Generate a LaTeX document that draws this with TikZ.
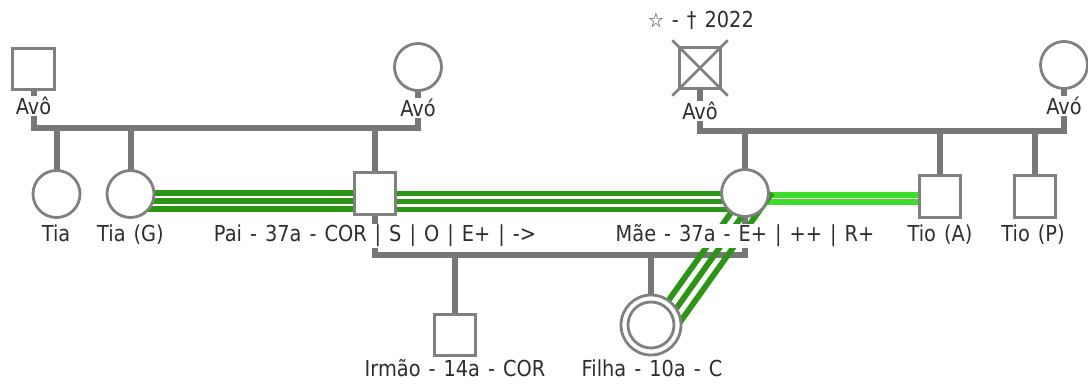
\documentclass[tikz,border=0pt]{standalone}
\usepackage{fontspec}
\setmainfont{DejaVu Sans}[FakeStretch=0.88, WordSpace=1.3]
\usetikzlibrary{calc}
\definecolor{linegray}{HTML}{777777}
\definecolor{nodegray}{HTML}{808080}
\definecolor{textgray}{HTML}{2E2E2E}
\definecolor{dgreen}{HTML}{2A9614}
\definecolor{lgreen}{HTML}{3DDC2A}
\pgfdeclarelayer{bg}
\pgfsetlayers{bg,main}
\begin{document}
\begin{tikzpicture}[x=1pt,y=-1pt,
  person/.style={draw=nodegray, line width=2.8pt, fill=white, inner sep=0pt, outer sep=0pt},
  male/.style={person, rectangle, minimum size=41.5pt},
  female/.style={person, circle, minimum size=47pt},
  lbl/.style={fill=white, inner sep=1pt, text=textgray, font=\fontsize{22}{24}\selectfont, anchor=base},
  conn/.style={draw=linegray, line width=6pt},
  relD/.style={draw=dgreen, line width=5.8pt},
  relL/.style={draw=lgreen, line width=6pt},
  xline/.style={draw=nodegray, line width=2.8pt}]
\useasboundingbox (0,0) rectangle (1088,387);
% persons
\node[male] (avoL) at (33.5,69) {};
\node[female] (avoM) at (418,67) {};
\node[male] (avoR) at (700,68) {};
\node[female] (avoRR) at (1064,65) {};
\node[female] (tia) at (56.5,194) {};
\node[female] (tiag) at (130.5,194) {};
\node[male] (pai) at (375,193.5) {};
\node[female] (mae) at (745,193) {};
\node[male] (tioa) at (940,196.5) {};
\node[male] (tiop) at (1035,196.5) {};
\node[male] (irmao) at (455,335) {};
\node[female, minimum size=60pt] (filha) at (651,325) {};
\node[female, minimum size=46pt] (filhain) at (filha.center) {};
% deceased cross
\draw[xline] ($(avoR.north west)+(-7,-7)$) -- ($(avoR.south east)+(7,7)$);
\draw[xline] ($(avoR.north east)+(7,-7)$) -- ($(avoR.south west)+(-7,7)$);
% labels
\node[lbl] (lavoL) at (33.5,115) {Avô};
\node[lbl] (lavoM) at (418,116.5) {Avó};
\node[lbl] (lavoR) at (700,119.5) {Avô};
\node[lbl] (lavoRR) at (1064,115) {Avó};
\node[lbl] (ldeath) at (701,28) {{\fontsize{20}{20}\selectfont ☆} - † 2022};
\node[lbl] (ltia) at (56,242) {Tia};
\node[lbl] (ltiag) at (130.5,242) {Tia (G)};
\node[lbl] (lpai) at (375,242) {Pai - 37a - COR | S | O | E+ | ->};
\node[lbl] (lmae) at (745,242) {Mãe - 37a - E+ | ++ | R+};
\node[lbl] (ltioa) at (940,242) {Tio (A)};
\node[lbl] (ltiop) at (1033,242) {Tio (P)};
\node[lbl] (lirmao) at (455,377) {Irmão - 14a - COR};
\node[lbl] (lfilha) at (652,377) {Filha - 10a - C};
% connectors
\begin{pgfonlayer}{bg}
  \coordinate (famL) at (225,128);
  \coordinate (famR) at (880,131);
  \coordinate (famPM) at (560,255);
  \draw[conn] (avoL.south) |- (famL) -| (avoM.south);
  \draw[conn] (avoR.south) |- (famR) -| (avoRR.south);
  \draw[conn] (pai.south) |- (famPM) -| (mae.south);
  \foreach \c in {tia,tiag,pai} \draw[conn] (\c.north) -- (\c.north |- famL);
  \foreach \c in {mae,tioa,tiop} \draw[conn] (\c.north) -- (\c.north |- famR);
  \foreach \c in {irmao,filha} \draw[conn] (\c.north) -- (\c.north |- famPM);
  \foreach \k in {-1,7,15} \draw[relD] ($(tiag.center)+(0,\k)$) -- ($(tiag.center -| pai.center)+(0,\k)$);
  \foreach \k in {0,8,16} \draw[relD] ($(pai.center)+(0,\k)$) -- ($(pai.center -| mae.center)+(0,\k)$);
  \foreach \k in {2,9.5} \draw[relL] ($(mae.center)+(0,\k)$) -- ($(mae.center -| tioa.center)+(0,\k)$);
  \foreach \k in {0,13.5,27} \draw[relD] ($(mae.center)+(\k,0)$) -- ($(filha.center)+(\k,0)$);
\end{pgfonlayer}
\end{tikzpicture}
\end{document}
